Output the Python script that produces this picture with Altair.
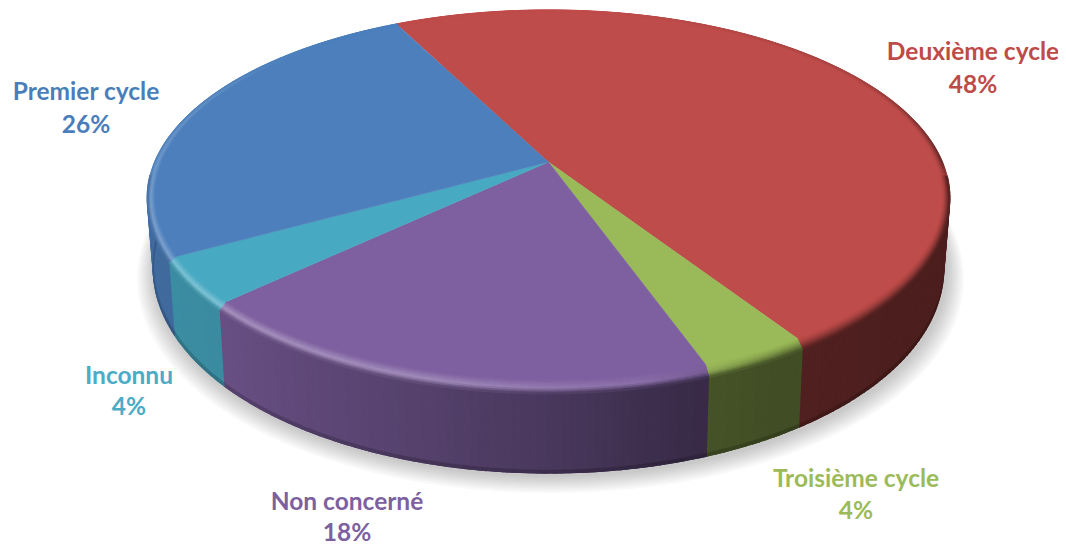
import numpy as np
import pandas as pd
import altair as alt

# ---- values (clockwise from the top-left boundary)
categories = ["Deuxième cycle", "Troisième cycle", "Non concerné", "Inconnu", "Premier cycle"]
shares = [48.3, 3.7, 18.4, 4.0, 25.6]
face_colors = ["#BE4C4A", "#9AB958", "#7E60A0", "#47A9C2", "#4C7FBC"]
label_colors = ["#BE4B48", "#9BBB59", "#7D60A0", "#4BACC6", "#4A7EBB"]

# ---- layout / 3D model
START = -26.8
CX, CY, RX, RY, D = 548.5, 162.0, 394.0, 180.8, 0.189
label_anchor = {
    "Deuxième cycle": (973, 53, 86),
    "Troisième cycle": (856, 480, 512),
    "Non concerné": (347, 503, 534),
    "Inconnu": (129, 377, 408),
    "Premier cycle": (86, 93, 126),
}
FONT, FONT_SIZE = "Lato", 24.5


def hex2rgb(c):
    return np.array([int(c[i:i + 2], 16) for i in (1, 3, 5)], float)


def rgb2hex(v):
    return "#%02x%02x%02x" % tuple(int(round(min(255, max(0, a)))) for a in v)


def top(t, r=1.0):
    t = np.radians(t)
    s = 1 / (1 + D * r * np.cos(t))
    return CX + RX * r * np.sin(t) * s, CY - RY * r * np.cos(t) * s


def rim_pt(t, r, f):
    """Point on the bevel: f = 0 inner edge, f = 1 outer edge dropping towards the wall."""
    x, y = top(t, r)
    return x, y + f * 9 * max(0.0, -np.cos(np.radians(t)))


def bottom(t, r=1.0):
    x, y = top(t, r)
    return CX + (x - CX) * 0.985, y + 66 - 22 * np.cos(np.radians(t))


def wall_shade(t):
    t = ((t - 90) % 360) + 90
    return np.interp(t, [100, 130, 150, 165, 180, 200, 225, 270], [.40, .40, .42, .46, .58, .70, .82, .86])


def rim_light(t):
    t = ((t - 60) % 360) + 60
    return np.interp(t, [60, 150, 172, 195, 225, 262, 290, 325, 420],
                     [0, 0, .12, .28, .32, .24, .14, 0, 0])


def rim_end(t):
    """Shade reached at the outer rim edge where no wall is visible."""
    t = ((t - 60) % 360) + 60
    return np.interp(t, [60, 90, 100, 370, 420], [.85, .5, 1, 1, .85])


rows = {"shadow": [], "wall": [], "face": [], "rim": []}
pid = 0


def add(layer, pts, color):
    global pid
    pid += 1
    for i, (x, y) in enumerate(pts):
        rows[layer].append({"p": pid, "i": i, "x": float(x), "y": float(y), "c": color})


# slice angles from the shares
total = sum(shares)
edges = START + np.cumsum([0] + shares) * 360.0 / total

# ground shadow
for k in range(8):
    r = 1.0 + 0.0055 * (k + 1)
    add("shadow", [(lambda p: (p[0] + 2, p[1] + 3 + 0.7 * k))(bottom(t, r)) for t in np.arange(0, 360, 3)], "#000000")

BANDS = 8
for a, b, col in zip(edges[:-1], edges[1:], face_colors):
    base = hex2rgb(col)
    ts = np.arange(a, b + 1e-6, 1.0)
    if ts[-1] < b:
        ts = np.append(ts, b)
    add("face", [(CX, CY)] + [top(t) for t in ts], col)
    for t0, t1 in zip(ts[:-1], ts[1:]):
        tm = (t0 + t1) / 2
        wrapped = ((tm - 90) % 360) + 90
        is_wall = 94 <= wrapped <= 266
        wall_col = base * wall_shade(tm)
        if is_wall:
            add("wall", [top(t0), top(t1), bottom(t1), bottom(t0)], rgb2hex(wall_col))
            # slightly darker lower lip of the wall
            p0, p1 = bottom(t0), bottom(t1)
            add("wall", [(p0[0], p0[1] - 2.5), (p1[0], p1[1] - 2.5), p1, p0], rgb2hex(wall_col * 0.82))
        # bevel bands
        end_col = wall_col if is_wall else base * rim_end(tm)
        light = rim_light(tm)
        peak = base + (255 - base) * light
        weight = min(1.0, light / 0.1)
        for k in range(BANDS):
            u0, u1 = k / BANDS, (k + 1) / BANDS
            um = (u0 + u1) / 2
            lit = base + (peak - base) * (um / .6) if um < .6 else peak + (end_col - peak) * ((um - .6) / .4)
            dark = base + (end_col - base) * um ** 1.5
            c = lit * weight + dark * (1 - weight)
            r0, r1 = 0.982 + 0.018 * u0, 0.982 + 0.018 * u1
            add("rim", [rim_pt(t0, r0, u0), rim_pt(t1, r0, u0), rim_pt(t1, r1, u1), rim_pt(t0, r1, u1)], rgb2hex(c))

xs = alt.Scale(domain=[8, 1058], nice=False, zero=False)
ys = alt.Scale(domain=[545, 8], nice=False, zero=False)


def poly_layer(name, opacity=None, sw=0.8):
    df = pd.DataFrame(rows[name])
    kw = {"opacity": opacity, "strokeWidth": 0} if opacity else {"strokeWidth": sw}
    return alt.Chart(df).mark_line(**kw).encode(
        x=alt.X("x:Q", scale=xs, axis=None),
        y=alt.Y("y:Q", scale=ys, axis=None),
        order=alt.Order("i:Q"),
        detail="p:N",
        stroke=alt.Stroke("c:N", scale=None),
        fill=alt.Fill("c:N", scale=None),
    )


label_rows = []
for cat, share, col in zip(categories, shares, label_colors):
    lx, y1, y2 = label_anchor[cat]
    label_rows.append({"x": lx, "y": y1, "t": cat, "c": col})
    label_rows.append({"x": lx, "y": y2, "t": f"{round(share)}%", "c": col})

labels = alt.Chart(pd.DataFrame(label_rows)).mark_text(
    font=FONT, fontSize=FONT_SIZE, fontWeight="bold", align="center", baseline="middle"
).encode(
    x=alt.X("x:Q", scale=xs, axis=None),
    y=alt.Y("y:Q", scale=ys, axis=None),
    text="t:N",
    color=alt.Color("c:N", scale=None),
)

chart = alt.layer(
    poly_layer("shadow", opacity=0.027),
    poly_layer("wall", sw=1.4),
    poly_layer("face", sw=0.5),
    poly_layer("rim", sw=0.9),
    labels,
).properties(width=1050, height=537, padding=0, autosize=alt.AutoSizeParams(type="none")).configure_view(stroke=None)

chart.save("out.html", embed_options={"renderer": "svg", "actions": False})
